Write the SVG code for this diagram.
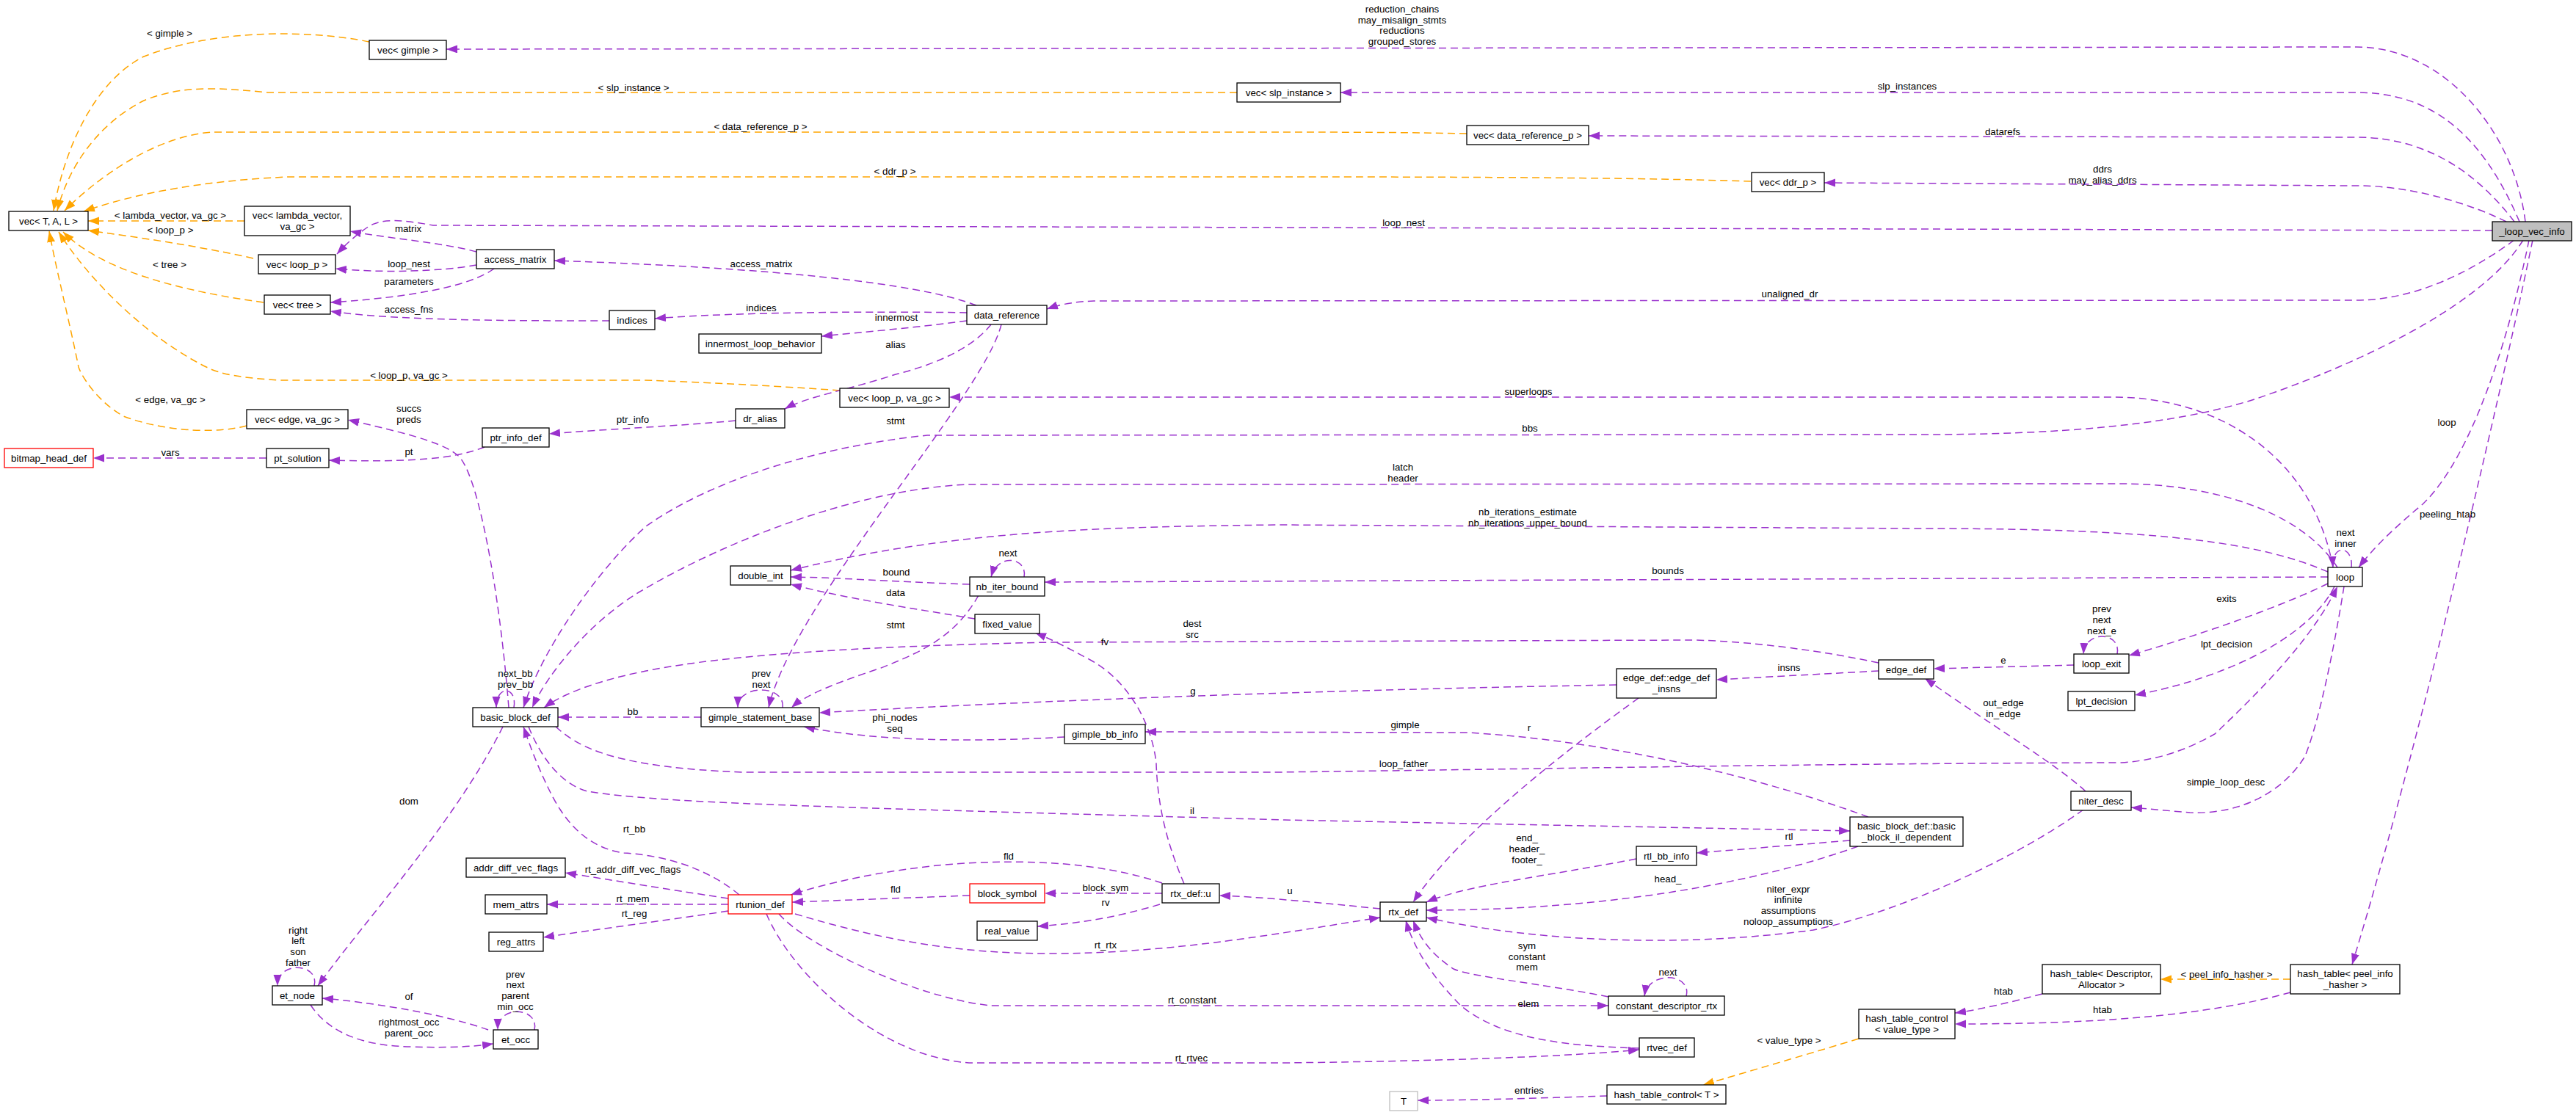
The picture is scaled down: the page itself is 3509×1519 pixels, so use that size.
<svg xmlns="http://www.w3.org/2000/svg" width="3509" height="1519" viewBox="0 0 3509 1519">
<style>
text{font-family:"Liberation Sans",Arial,Helvetica,sans-serif;font-size:13.3px;fill:#000;text-anchor:middle}
.node rect{fill:#fff;stroke:#000;stroke-width:1.3}
.node rect.red{stroke:#f00}
.node rect.gray{stroke:#bfbfbf}
.node rect.main{fill:#bfbfbf}
.e{fill:none;stroke:#9a32cd;stroke-width:1.5;stroke-dasharray:10,6;marker-end:url(#ap)}
.o{fill:none;stroke:#ffa500;stroke-width:1.5;stroke-dasharray:10,6;marker-end:url(#ao)}
</style>
<defs>
<marker id="ap" markerWidth="16" markerHeight="12" refX="15" refY="5.5" orient="auto" markerUnits="userSpaceOnUse"><path d="M0,0 L15,5.5 L0,11 z" fill="#9a32cd"/></marker>
<marker id="ao" markerWidth="16" markerHeight="12" refX="15" refY="5.5" orient="auto" markerUnits="userSpaceOnUse"><path d="M0,0 L15,5.5 L0,11 z" fill="#ffa500"/></marker>
</defs>
<rect width="3509" height="1519" fill="#fff"/>
<g id="connectors">
<!-- orange template edges -->
<path class="o" d="M503,57 C420,40 290,40 196,77 C130,110 88,200 73,287"/>
<path class="o" d="M1685,126 L365,126 C300,120 250,115 196,137 C140,165 95,220 78,287"/>
<path class="o" d="M1998,182 C1900,180 1800,180 1740,180 L292,180 C230,182 150,225 88,287"/>
<path class="o" d="M2385,247 C2200,241 1900,241 1740,241 L393,241 C300,245 200,258 114,288"/>
<path class="o" d="M333,301 L120,301"/>
<path class="o" d="M345,352 C270,335 180,322 120,314"/>
<path class="o" d="M359,412 C250,397 140,370 86,316"/>
<path class="o" d="M1144,532 C1050,525 900,518 870,518 L382,518 C330,515 300,510 281,500 C200,460 120,380 80,316"/>
<path class="o" d="M336,580 C300,590 230,590 168,567 C130,545 110,510 107,500 C95,440 75,360 67,315"/>
<path class="o" d="M3120,1334 L2943,1334"/>
<path class="o" d="M2532,1415 C2450,1440 2380,1460 2320,1478"/>
<!-- purple member edges -->
<path class="e" d="M3440,302 C3425,180 3330,64 3210,64 L608,67"/>
<path class="e" d="M3432,302 C3380,180 3310,126 3210,126 L1826,126"/>
<path class="e" d="M3425,302 C3370,230 3300,187 3210,187 L2164,185"/>
<path class="e" d="M3414,302 C3370,280 3290,253 3210,253 L2485,249"/>
<path class="e" d="M3395,314 L590,307 C550,300 520,296 500,310 Q478,325 459,346"/>
<path class="e" d="M649,343 C600,330 530,325 477,315"/>
<path class="e" d="M649,361 C600,370 520,372 457,366"/>
<path class="e" d="M673,366 C640,390 560,405 450,412"/>
<path class="e" d="M830,437 C700,437 540,437 450,424"/>
<path class="e" d="M1330,416 C1250,385 1050,365 755,355"/>
<path class="e" d="M1317,426 C1200,424 1000,425 892,434"/>
<path class="e" d="M1317,437 C1250,446 1180,452 1119,458"/>
<path class="e" d="M1350,442 C1320,480 1260,500 1220,510 C1160,530 1100,540 1069,557"/>
<path class="e" d="M1364,442 C1340,540 1080,820 1047,964"/>
<path class="e" d="M3425,327 C3380,360 3300,409 3210,409 L1490,410 C1460,411 1440,416 1426,421"/>
<path class="e" d="M1002,573 C930,580 820,585 748,591"/>
<path class="e" d="M660,609 C620,625 560,630 448,627"/>
<path class="e" d="M363,624 L127,624"/>
<path class="e" d="M693,964 C680,800 650,640 623,620 C600,600 530,585 474,572"/>
<path class="e" d="M3178,773 C3150,620 3020,541 2880,541 L1293,541"/>
<path class="e" d="M3437,327 C3380,420 3200,500 3074,543 C2960,580 2800,592 2620,592 L1263,593 C1100,610 960,660 880,717 C820,770 740,880 713,964"/>
<path class="e" d="M3184,773 C3130,690 3000,659 2890,659 L1320,660 C1180,665 1000,730 870,807 C800,850 745,920 725,964"/>
<path class="e" d="M3171,779 C3080,740 2950,720 2620,720 L1740,715 C1500,718 1300,722 1077,777"/>
<path class="e" d="M3171,786 L1423,793"/>
<path class="e" d="M1321,796 C1200,792 1150,787 1077,786"/>
<path class="e" d="M1395,786 C1400,760 1360,752 1350,786"/>
<path class="e" d="M1328,843 C1250,830 1150,815 1077,796"/>
<path class="e" d="M1333,811 C1300,870 1250,890 1200,910 C1140,930 1100,945 1078,964"/>
<path class="e" d="M3171,795 C3100,830 2980,870 2900,893"/>
<path class="e" d="M3203,773 C3206,743 3176,740 3178,773"/>
<path class="e" d="M2825,906 L2634,911"/>
<path class="e" d="M2884,891 C2890,860 2840,858 2838,891"/>
<path class="e" d="M3180,799 C3150,860 3050,920 2908,947"/>
<path class="e" d="M2559,903 C2450,880 2350,872 2300,872 L1431,875 C1200,880 1000,890 880,914 C800,930 760,950 741,964"/>
<path class="e" d="M2559,914 L2338,926"/>
<path class="e" d="M2202,933 C1800,940 1400,955 1116,971"/>
<path class="e" d="M2232,951 C2150,1010 1990,1130 1925,1229"/>
<path class="e" d="M2545,1113 C2400,1060 2200,1010 2000,998 L1560,997"/>
<path class="e" d="M1450,1004 C1350,1010 1200,1012 1095,990"/>
<path class="e" d="M1613,1204 C1590,1150 1577,1100 1575,1040 C1570,990 1540,930 1487,900 C1450,880 1430,870 1410,862"/>
<path class="e" d="M757,990 C790,1020 840,1045 1010,1052 L1740,1052 C2200,1046 2500,1040 2890,1039 C2950,1035 2990,1015 3017,1000 C3080,940 3150,870 3184,799"/>
<path class="e" d="M720,990 C740,1040 770,1070 800,1078 C900,1095 1150,1100 1750,1117 L2520,1132"/>
<path class="e" d="M2520,1145 L2311,1162"/>
<path class="e" d="M2229,1170 C2100,1195 2000,1205 1943,1229"/>
<path class="e" d="M2531,1153 C2400,1200 2200,1240 1943,1240"/>
<path class="e" d="M2838,1103 C2760,1160 2600,1240 2470,1267 C2300,1290 2100,1285 1943,1250"/>
<path class="e" d="M2841,1078 C2800,1040 2700,980 2622,924"/>
<path class="e" d="M3193,799 C3180,880 3160,980 3140,1030 C3110,1080 3050,1110 2983,1107 L2903,1100"/>
<path class="e" d="M3445,327 C3420,450 3370,620 3300,687 C3260,720 3230,750 3213,773"/>
<path class="e" d="M3450,327 C3410,520 3300,1000 3204,1314"/>
<path class="e" d="M2782,1354 C2740,1365 2700,1375 2663,1380"/>
<path class="e" d="M3120,1352 C3000,1385 2850,1395 2663,1395"/>
<path class="e" d="M2189,1493 C2100,1496 2000,1499 1931,1499"/>
<path class="e" d="M2191,1358 C2100,1340 2000,1330 1980,1320 C1950,1300 1935,1280 1925,1254"/>
<path class="e" d="M2297,1357 C2305,1325 2245,1322 2240,1357"/>
<path class="e" d="M2233,1428 C2150,1425 2050,1420 1990,1370 C1950,1330 1925,1290 1915,1254"/>
<path class="e" d="M1061,1245 C1100,1290 1250,1360 1350,1370 L2191,1370"/>
<path class="e" d="M1044,1245 C1080,1330 1200,1440 1320,1448 L1750,1448 C2000,1445 2150,1438 2233,1430"/>
<path class="e" d="M1083,1245 C1200,1280 1300,1299 1431,1299 C1600,1299 1750,1270 1880,1250"/>
<path class="e" d="M1583,1203 C1500,1175 1400,1170 1300,1177 C1200,1185 1120,1205 1077,1219"/>
<path class="e" d="M1321,1220 L1079,1229"/>
<path class="e" d="M1583,1217 L1423,1217"/>
<path class="e" d="M1580,1232 C1520,1250 1470,1258 1413,1262"/>
<path class="e" d="M1880,1238 C1800,1230 1720,1222 1661,1220"/>
<path class="e" d="M685,990 C620,1120 500,1250 433,1343"/>
<path class="e" d="M428,1343 C436,1312 378,1308 378,1343"/>
<path class="e" d="M665,1403 C600,1380 500,1365 439,1360"/>
<path class="e" d="M423,1369 C450,1410 500,1425 560,1426 C620,1428 650,1425 672,1422"/>
<path class="e" d="M728,1403 C735,1372 678,1368 678,1403"/>
<path class="e" d="M1007,1219 C960,1180 900,1165 850,1162 C800,1155 770,1120 750,1080 C730,1040 720,1010 713,990"/>
<path class="e" d="M992,1224 C900,1210 840,1200 770,1189"/>
<path class="e" d="M992,1232 L745,1232"/>
<path class="e" d="M992,1241 C900,1255 820,1265 740,1277"/>
<path class="e" d="M955,977 L760,977"/>
<path class="e" d="M1066,964 C1070,932 1005,932 1005,964"/>
<path class="e" d="M700,964 C705,935 676,932 676,964"/>
</g>
<g id="labels">
<text x="231" y="50">&lt; gimple &gt;</text>
<text x="863" y="124">&lt; slp_instance &gt;</text>
<text x="1036" y="177">&lt; data_reference_p &gt;</text>
<text x="1219" y="238">&lt; ddr_p &gt;</text>
<text x="232" y="298">&lt; lambda_vector, va_gc &gt;</text>
<text x="232" y="318">&lt; loop_p &gt;</text>
<text x="231" y="365">&lt; tree &gt;</text>
<text x="557" y="516">&lt; loop_p, va_gc &gt;</text>
<text x="232" y="549">&lt; edge, va_gc &gt;</text>
<text x="3033" y="1332">&lt; peel_info_hasher &gt;</text>
<text x="2437" y="1422">&lt; value_type &gt;</text>
<text x="1910" y="17">reduction_chains</text>
<text x="1910" y="32">may_misalign_stmts</text>
<text x="1910" y="46">reductions</text>
<text x="1910" y="61">grouped_stores</text>
<text x="2598" y="122">slp_instances</text>
<text x="2728" y="184">datarefs</text>
<text x="2864" y="235">ddrs</text>
<text x="2864" y="250">may_alias_ddrs</text>
<text x="1912" y="308">loop_nest</text>
<text x="556" y="316">matrix</text>
<text x="557" y="364">loop_nest</text>
<text x="557" y="388">parameters</text>
<text x="557" y="426">access_fns</text>
<text x="1037" y="364">access_matrix</text>
<text x="1037" y="424">indices</text>
<text x="1221" y="437">innermost</text>
<text x="1220" y="474">alias</text>
<text x="2438" y="405">unaligned_dr</text>
<text x="2082" y="538">superloops</text>
<text x="1220" y="578">stmt</text>
<text x="862" y="576">ptr_info</text>
<text x="557" y="561">succs</text>
<text x="557" y="576">preds</text>
<text x="557" y="620">pt</text>
<text x="232" y="621">vars</text>
<text x="2084" y="588">bbs</text>
<text x="3333" y="580">loop</text>
<text x="1911" y="641">latch</text>
<text x="1911" y="656">header</text>
<text x="2081" y="702">nb_iterations_estimate</text>
<text x="2081" y="717">nb_iterations_upper_bound</text>
<text x="3334" y="705">peeling_htab</text>
<text x="3195" y="730">next</text>
<text x="3195" y="745">inner</text>
<text x="1373" y="758">next</text>
<text x="2272" y="782">bounds</text>
<text x="1221" y="784">bound</text>
<text x="1220" y="812">data</text>
<text x="3033" y="820">exits</text>
<text x="2863" y="834">prev</text>
<text x="2863" y="849">next</text>
<text x="2863" y="864">next_e</text>
<text x="1624" y="854">dest</text>
<text x="1624" y="869">src</text>
<text x="1220" y="856">stmt</text>
<text x="1505" y="879">fv</text>
<text x="3033" y="882">lpt_decision</text>
<text x="2729" y="904">e</text>
<text x="2437" y="914">insns</text>
<text x="702" y="922">next_bb</text>
<text x="702" y="937">prev_bb</text>
<text x="1037" y="922">prev</text>
<text x="1037" y="937">next</text>
<text x="1625" y="946">g</text>
<text x="2729" y="962">out_edge</text>
<text x="2729" y="977">in_edge</text>
<text x="862" y="974">bb</text>
<text x="1219" y="982">phi_nodes</text>
<text x="1219" y="997">seq</text>
<text x="1914" y="992">gimple</text>
<text x="2083" y="996">r</text>
<text x="1912" y="1045">loop_father</text>
<text x="3032" y="1070">simple_loop_desc</text>
<text x="557" y="1096">dom</text>
<text x="1624" y="1109">il</text>
<text x="864" y="1134">rt_bb</text>
<text x="2437" y="1144">rtl</text>
<text x="2080" y="1146">end_</text>
<text x="2080" y="1161">header_</text>
<text x="2080" y="1176">footer_</text>
<text x="1374" y="1171">fld</text>
<text x="862" y="1189">rt_addr_diff_vec_flags</text>
<text x="2272" y="1202">head_</text>
<text x="1506" y="1214">block_sym</text>
<text x="1220" y="1216">fld</text>
<text x="2436" y="1216">niter_expr</text>
<text x="2436" y="1230">infinite</text>
<text x="2436" y="1245">assumptions</text>
<text x="2436" y="1260">noloop_assumptions</text>
<text x="1757" y="1218">u</text>
<text x="862" y="1229">rt_mem</text>
<text x="1506" y="1234">rv</text>
<text x="864" y="1249">rt_reg</text>
<text x="406" y="1272">right</text>
<text x="406" y="1286">left</text>
<text x="406" y="1301">son</text>
<text x="406" y="1316">father</text>
<text x="1506" y="1292">rt_rtx</text>
<text x="2080" y="1293">sym</text>
<text x="2080" y="1308">constant</text>
<text x="2080" y="1322">mem</text>
<text x="2272" y="1329">next</text>
<text x="702" y="1332">prev</text>
<text x="702" y="1346">next</text>
<text x="702" y="1361">parent</text>
<text x="702" y="1376">min_occ</text>
<text x="2729" y="1355">htab</text>
<text x="557" y="1362">of</text>
<text x="1624" y="1367">rt_constant</text>
<text x="2082" y="1372">elem</text>
<text x="2864" y="1380">htab</text>
<text x="557" y="1397">rightmost_occ</text>
<text x="557" y="1412">parent_occ</text>
<text x="1623" y="1446">rt_rtvec</text>
<text x="2083" y="1490">entries</text>
</g>
<g id="n_vecTAL" class="node"><rect x="12" y="288" width="108" height="26"/><text x="66" y="305.5">vec&lt; T, A, L &gt;</text></g>
<g id="n_vecgimple" class="node"><rect x="503" y="55" width="105" height="26"/><text x="555.5" y="72.5">vec&lt; gimple &gt;</text></g>
<g id="n_vecslp" class="node"><rect x="1685" y="113" width="141" height="26"/><text x="1755.5" y="130.5">vec&lt; slp_instance &gt;</text></g>
<g id="n_vecdrp" class="node"><rect x="1998" y="171" width="166" height="26"/><text x="2081" y="188.5">vec&lt; data_reference_p &gt;</text></g>
<g id="n_vecddrp" class="node"><rect x="2386" y="235" width="99" height="26"/><text x="2435.5" y="252.5">vec&lt; ddr_p &gt;</text></g>
<g id="n_loopvecinfo" class="node"><rect class="main" x="3395" y="302" width="108" height="26"/><text x="3449" y="319.5">_loop_vec_info</text></g>
<g id="n_veclambda" class="node"><rect x="333" y="281" width="144" height="40"/><text x="405" y="297.5">vec&lt; lambda_vector,</text><text x="405" y="312.5">va_gc &gt;</text></g>
<g id="n_vecloopp" class="node"><rect x="352" y="347" width="105" height="26"/><text x="404.5" y="364.5">vec&lt; loop_p &gt;</text></g>
<g id="n_accessmatrix" class="node"><rect x="649" y="340" width="106" height="26"/><text x="702" y="357.5">access_matrix</text></g>
<g id="n_vectree" class="node"><rect x="360" y="402" width="90" height="26"/><text x="405" y="419.5">vec&lt; tree &gt;</text></g>
<g id="n_indices" class="node"><rect x="830" y="423" width="62" height="26"/><text x="861" y="440.5">indices</text></g>
<g id="n_dataref" class="node"><rect x="1317" y="416" width="109" height="26"/><text x="1371.5" y="433.5">data_reference</text></g>
<g id="n_innermost" class="node"><rect x="952" y="455" width="167" height="26"/><text x="1035.5" y="472.5">innermost_loop_behavior</text></g>
<g id="n_vecloopvagc" class="node"><rect x="1144" y="529" width="149" height="26"/><text x="1218.5" y="546.5">vec&lt; loop_p, va_gc &gt;</text></g>
<g id="n_dralias" class="node"><rect x="1002" y="557" width="67" height="26"/><text x="1035.5" y="574.5">dr_alias</text></g>
<g id="n_vecedge" class="node"><rect x="336" y="558" width="138" height="26"/><text x="405" y="575.5">vec&lt; edge, va_gc &gt;</text></g>
<g id="n_bitmap" class="node"><rect class="red" x="6" y="611" width="121" height="26"/><text x="66.5" y="628.5">bitmap_head_def</text></g>
<g id="n_ptsolution" class="node"><rect x="363" y="611" width="85" height="26"/><text x="405.5" y="628.5">pt_solution</text></g>
<g id="n_ptrinfo" class="node"><rect x="657" y="583" width="91" height="26"/><text x="702.5" y="600.5">ptr_info_def</text></g>
<g id="n_loop" class="node"><rect x="3171" y="773" width="47" height="26"/><text x="3194.5" y="790.5">loop</text></g>
<g id="n_doubleint" class="node"><rect x="995" y="771" width="82" height="26"/><text x="1036" y="788.5">double_int</text></g>
<g id="n_nbiter" class="node"><rect x="1321" y="786" width="102" height="26"/><text x="1372" y="803.5">nb_iter_bound</text></g>
<g id="n_fixedvalue" class="node"><rect x="1328" y="837" width="88" height="26"/><text x="1372" y="854.5">fixed_value</text></g>
<g id="n_loopexit" class="node"><rect x="2825" y="891" width="75" height="26"/><text x="2862.5" y="908.5">loop_exit</text></g>
<g id="n_edgedef" class="node"><rect x="2559" y="899" width="75" height="26"/><text x="2596.5" y="916.5">edge_def</text></g>
<g id="n_edgeinsns" class="node"><rect x="2202" y="911" width="136" height="40"/><text x="2270" y="927.5">edge_def::edge_def</text><text x="2270" y="942.5">_insns</text></g>
<g id="n_lpt" class="node"><rect x="2817" y="942" width="91" height="26"/><text x="2862.5" y="959.5">lpt_decision</text></g>
<g id="n_bbdef" class="node"><rect x="644" y="964" width="116" height="26"/><text x="702" y="981.5">basic_block_def</text></g>
<g id="n_gsb" class="node"><rect x="955" y="964" width="161" height="26"/><text x="1035.5" y="981.5">gimple_statement_base</text></g>
<g id="n_gbbinfo" class="node"><rect x="1450" y="987" width="110" height="26"/><text x="1505" y="1004.5">gimple_bb_info</text></g>
<g id="n_niter" class="node"><rect x="2821" y="1078" width="82" height="26"/><text x="2862" y="1095.5">niter_desc</text></g>
<g id="n_bbil" class="node"><rect x="2520" y="1113" width="154" height="40"/><text x="2597" y="1129.5">basic_block_def::basic</text><text x="2597" y="1144.5">_block_il_dependent</text></g>
<g id="n_rtlbb" class="node"><rect x="2229" y="1153" width="82" height="26"/><text x="2270" y="1170.5">rtl_bb_info</text></g>
<g id="n_addrdiff" class="node"><rect x="635" y="1169" width="135" height="26"/><text x="702.5" y="1186.5">addr_diff_vec_flags</text></g>
<g id="n_rtunion" class="node"><rect class="red" x="992" y="1219" width="87" height="26"/><text x="1035.5" y="1236.5">rtunion_def</text></g>
<g id="n_blocksym" class="node"><rect class="red" x="1321" y="1204" width="102" height="26"/><text x="1372" y="1221.5">block_symbol</text></g>
<g id="n_rtxu" class="node"><rect x="1583" y="1204" width="78" height="26"/><text x="1622" y="1221.5">rtx_def::u</text></g>
<g id="n_memattrs" class="node"><rect x="661" y="1219" width="84" height="26"/><text x="703" y="1236.5">mem_attrs</text></g>
<g id="n_rtxdef" class="node"><rect x="1880" y="1229" width="63" height="26"/><text x="1911.5" y="1246.5">rtx_def</text></g>
<g id="n_realvalue" class="node"><rect x="1331" y="1255" width="82" height="26"/><text x="1372" y="1272.5">real_value</text></g>
<g id="n_regattrs" class="node"><rect x="666" y="1270" width="74" height="26"/><text x="703" y="1287.5">reg_attrs</text></g>
<g id="n_etnode" class="node"><rect x="371" y="1343" width="68" height="26"/><text x="405" y="1360.5">et_node</text></g>
<g id="n_etocc" class="node"><rect x="672" y="1403" width="61" height="26"/><text x="702.5" y="1420.5">et_occ</text></g>
<g id="n_cdrtx" class="node"><rect x="2191" y="1357" width="158" height="26"/><text x="2270" y="1374.5">constant_descriptor_rtx</text></g>
<g id="n_rtvec" class="node"><rect x="2233" y="1414" width="75" height="26"/><text x="2270.5" y="1431.5">rtvec_def</text></g>
<g id="n_T" class="node"><rect class="gray" x="1893" y="1487" width="38" height="26"/><text x="1912" y="1504.5">T</text></g>
<g id="n_htcT" class="node"><rect x="2189" y="1478" width="162" height="26"/><text x="2270" y="1495.5">hash_table_control&lt; T &gt;</text></g>
<g id="n_htcvt" class="node"><rect x="2532" y="1375" width="131" height="40"/><text x="2597.5" y="1391.5">hash_table_control</text><text x="2597.5" y="1406.5">&lt; value_type &gt;</text></g>
<g id="n_htdesc" class="node"><rect x="2782" y="1314" width="161" height="40"/><text x="2862.5" y="1330.5">hash_table&lt; Descriptor,</text><text x="2862.5" y="1345.5">Allocator &gt;</text></g>
<g id="n_htpeel" class="node"><rect x="3120" y="1314" width="149" height="40"/><text x="3194.5" y="1330.5">hash_table&lt; peel_info</text><text x="3194.5" y="1345.5">_hasher &gt;</text></g>
</svg>
